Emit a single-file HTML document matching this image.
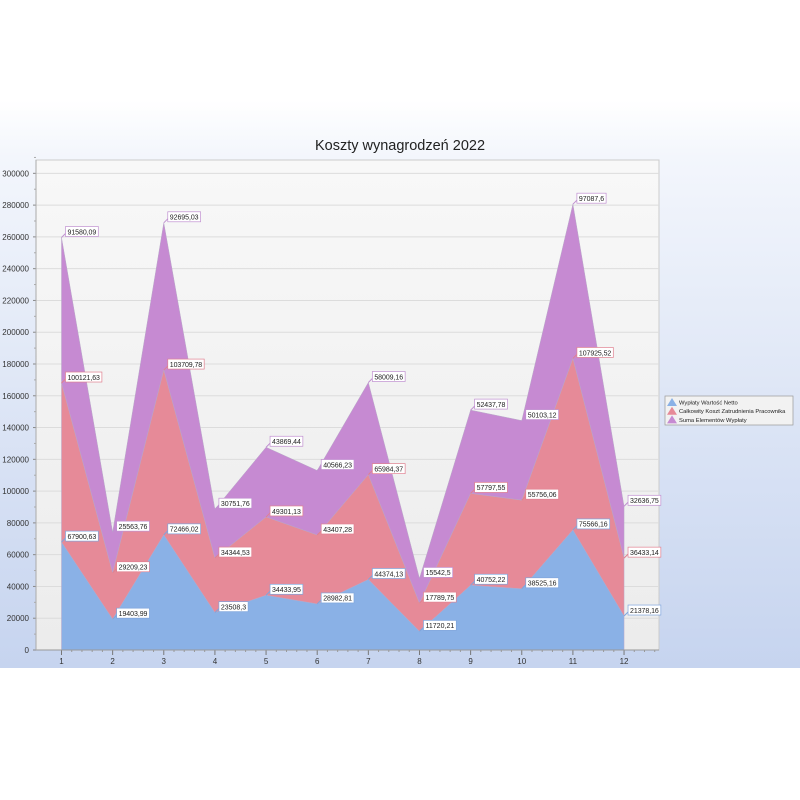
<!DOCTYPE html>
<html><head><meta charset="utf-8"><style>
body{margin:0;background:#fff;}
svg{display:block;font-family:"Liberation Sans",sans-serif;}
</style></head><body>
<svg id="s" width="800" height="800" xmlns="http://www.w3.org/2000/svg">
<defs>
<linearGradient id="bg" x1="0" y1="0" x2="0" y2="1">
<stop offset="0" stop-color="#ffffff"/><stop offset="0.1" stop-color="#f3f6fc"/><stop offset="1" stop-color="#c6d4ef"/>
</linearGradient>
<linearGradient id="pa" x1="0" y1="0" x2="0" y2="1">
<stop offset="0" stop-color="#f8f8f8"/><stop offset="1" stop-color="#ececec"/>
</linearGradient>
</defs>
<rect x="0" y="100" width="800" height="568" fill="url(#bg)"/>
<text x="400" y="150" font-size="14.5" text-anchor="middle" fill="#222">Koszty wynagrodzeń 2022</text>
<rect x="36" y="160" width="623" height="490" fill="url(#pa)" stroke="#ccc"/>
<g id="g"></g>
</svg>
<script>
var net=[67900.63,19403.99,72466.02,23508.3,34433.95,28982.81,44374.13,11720.21,40752.22,38525.16,75566.16,21378.16];
var cost=[100121.63,29209.23,103709.78,34344.53,49301.13,43407.28,65984.37,17789.75,57797.55,55756.06,107925.52,36433.14];
var sum=[91580.09,25563.76,92695.03,30751.76,43869.44,40566.23,58009.16,15542.5,52437.78,50103.12,97087.6,32636.75];
function fx(i){return 61.5+i*51.14;}
function fy(v){return 650-v*0.0015889;}
var h='';
for(var v=0;v<=300000;v+=20000){var y=fy(v);
 h+='<line x1="36" x2="659" y1="'+y+'" y2="'+y+'" stroke="#dcdcdc"/>';
 h+='<text x="29" y="'+(y+3)+'" font-size="8" text-anchor="end" fill="#333">'+v+'</text>';
 h+='<line x1="33" x2="36" y1="'+y+'" y2="'+y+'" stroke="#888"/>';
 h+='<line x1="34" x2="36" y1="'+fy(v+10000)+'" y2="'+fy(v+10000)+'" stroke="#aaa"/>';}
var c1=[],c2=[],c3=[];
for(var i=0;i<12;i++){c1.push(net[i]);c2.push(net[i]+cost[i]);c3.push(net[i]+cost[i]+sum[i]);}
function area(top,bot,col){var p='';for(var i=0;i<12;i++)p+=fx(i)+','+fy(top[i])+' ';
 for(var i=11;i>=0;i--)p+=fx(i)+','+fy(bot?bot[i]:0)+' ';
 return '<polygon points="'+p+'" fill="'+col+'" stroke="#b8a8c8" stroke-width="0.5"/>';}
h+=area(c3,c2,'#c68ad2')+area(c2,c1,'#e68a98')+area(c1,null,'#8ab1e6');
function lab(x,y,t,bc){var w=t.length*3.6+4;
 return '<line x1="'+x+'" y1="'+y+'" x2="'+(x+4)+'" y2="'+(y-4)+'" stroke="'+bc+'"/><rect x="'+(x+4)+'" y="'+(y-11)+'" width="'+w+'" height="10" fill="#fff" stroke="'+bc+'" stroke-width="0.7"/><text x="'+(x+6)+'" y="'+(y-3.2)+'" font-size="7" textLength="'+(w-4)+'" fill="#222">'+t+'</text>';}
function f(v){return String(v).replace('.',',');}
for(var i=0;i<12;i++){h+=lab(fx(i),fy(c1[i]),f(net[i]),'#7fa5dc')+lab(fx(i),fy(c2[i]),f(cost[i]),'#e08090')+lab(fx(i),fy(c3[i]),f(sum[i]),'#c090d0');
 h+='<line x1="'+fx(i)+'" x2="'+fx(i)+'" y1="650" y2="655" stroke="#777"/><text x="'+fx(i)+'" y="664" font-size="8" text-anchor="middle" fill="#333">'+(i+1)+'</text>';
 for(var k=1;k<5;k++){var xx=fx(i)+k*51.14/5;if(xx<659)h+='<line x1="'+xx+'" x2="'+xx+'" y1="650" y2="652" stroke="#999"/>';}}
h+='<line x1="36" x2="659" y1="650" y2="650" stroke="#999"/><line x1="36" x2="36" y1="160" y2="650" stroke="#aaa"/>';
h+='<rect x="665" y="396" width="128" height="29" fill="#f2f2f2" stroke="#999" stroke-width="0.7"/>';
var L=[['Wypłaty Wartość Netto','#8ab1e6'],['Całkowity Koszt Zatrudnienia Pracownika','#e68a98'],['Suma Elementów Wypłaty','#c68ad2']];
for(var j=0;j<3;j++){var y=398+j*8.7;h+='<polygon points="667,'+(y+8)+' 672,'+y+' 677,'+(y+8)+'" fill="'+L[j][1]+'"/><text x="679" y="'+(y+6.5)+'" font-size="5.8" fill="#222">'+L[j][0]+'</text>';}
document.getElementById('g').innerHTML=h;
</script>
</body></html>
